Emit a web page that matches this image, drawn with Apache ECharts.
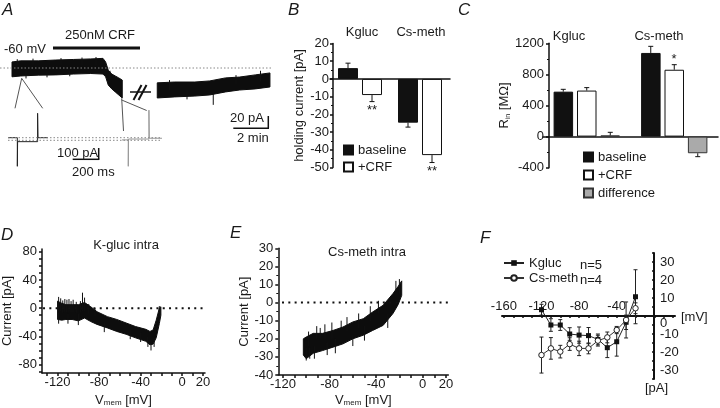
<!DOCTYPE html>
<html><head><meta charset="utf-8">
<script src="https://cdn.jsdelivr.net/npm/echarts@6/dist/echarts.min.js"></script>
<style>html,body{margin:0;padding:0;background:#fff}#c{width:720px;height:408px}</style>
</head><body><div id="c"></div>
<script>
// ---------- Panel A: holding-current trace (time in min, current in pA) ----------
const traceA1Time  = [0, 0.5, 1.5, 2.5, 3.5, 4.5, 5.2, 5.35, 5.5, 5.7, 5.9, 6.1, 6.3];
const traceA1Upper = [11, 13, 13, 14.5, 15.5, 16.5, 17.5, 11, -4, -11, -14.5, -18, -22];
const traceA1Lower = [-16, -14.5, -13, -12.5, -11, -10, -11, -16, -31, -38, -43.5, -49, -54.5];
const traceA1Spikes = [[0.3, 5, 16], [1.2, 5, 17], [2.8, 5, 18], [4.0, 5, 19], [4.8, 5, 20], [0.8, -5, -19], [2.0, -5, -17], [3.3, -5, -15], [5.6, -20, -5]];
const traceA2Time  = [8.3, 9.3, 10.45, 11.3, 12.2, 13.0, 13.9, 14.74];
const traceA2Upper = [-27, -25.5, -25.5, -23.5, -18, -16.5, -12.5, -9];
const traceA2Lower = [-54.5, -52.5, -51, -49, -43.5, -40, -38, -34.5];
const traceA2Spikes = [[11.5, -45, -67], [9.0, -40, -22], [10.0, -40, -57], [12.8, -30, -13], [14.2, -25, -5]];
// inset sweeps (ms, pA)
const inset1Time = [0, 70, 70, 72, 222, 222, 225, 300];
const inset1Curr = [0, 0, -260, -36, -36, 222, 0, 0];
const inset2Time = [0, 47, 47, 49, 202, 202, 205, 300];
const inset2Curr = [-20, -20, -260, -12, -12, 250, -5, -5];

// ---------- Panel B: holding current ----------
const bCategories = ['Kgluc', 'Cs-meth'];
const bBaseline = [6.1, -24.7];
const bBaselineErr = [2.8, 2.5];
const bCRF = [-9.1, -43];
const bCRFErr = [3.7, 4.2];

// ---------- Panel C: input resistance ----------
const cCategories = ['Kgluc', 'Cs-meth'];
const cBaseline = [578, 1076];
const cBaselineErr = [30, 85];
const cCRF = [592, 860];
const cCRFErr = [38, 65];
const cDiff = [15, -214];
const cDiffErr = [40, 44];

// ---------- Panel D: K-gluc IV ramp (envelope) ----------
const dV     = [-120, -116, -112, -106, -100, -94, -88, -82, -72, -63, -54, -45, -35, -31, -28, -25, -22, -20.5];
const dUpper = [10, 7, 5, 5, 5, 8, 2, -5, -12, -16, -21, -26, -30, -33, -31, -17, 0, 2];
const dLower = [-16, -17, -16, -16, -18, -14, -19, -23, -28, -33, -37, -42, -47, -52, -51, -42, -22, -10];
const dSpikes = [[-119, -4, 16], [-117, -4, 14], [-113, -5, 13], [-109, -5, 13], [-105, -6, 12], [-96, -4, 22], [-94, -4, 15],
  [-115, -6, 11], [-111, -6, 12], [-107, -6, 10], [-102, -6, 9], [-98, -6, 10], [-90, -8, 6], [-84, -12, 0],
  [-119, -6, -22], [-110, -8, -22], [-100, -8, -24], [-75, -20, -34], [-50, -30, -44], [-40, -35, -48], [-33, -40, -55],
  [-30, -44, -60], [-27, -40, -55], [-22, -10, 3]];

// ---------- Panel E: Cs-meth IV ramp (envelope) ----------
const eV     = [-102.5, -100, -94, -86, -77, -68.5, -60, -51, -43, -34, -25.5, -21, -18];
const eUpper = [-20, -19, -17, -17, -15.4, -13.5, -10.7, -8.9, -5.2, -1.5, 5, 9, 12];
const eLower = [-29, -31, -28, -26.5, -24.6, -22.8, -20, -18, -15.4, -12.6, -6, -1, 4];
const eSpikes = [[-91, -20, -13], [-88, -20, -14], [-100, -25, -32], [-97, -25, -31], [-93, -24, -31], [-70, -15, -10], [-60, -18, -24], [-20, 5, 13],
  [-98, -24, -16], [-84, -20, -12], [-78, -20, -11], [-65, -16, -8], [-55, -14, -6], [-45, -10, -2], [-38, -6, 1],
  [-82, -22, -29], [-75, -20, -28], [-50, -13, -21], [-30, -6, -14], [-23, 5, 12]];

// ---------- Panel F: mean IV ----------
const fV = [-120, -110, -100, -90, -80, -70, -60, -50, -40, -30, -20];
const fKgluc = [3.5, -5, -5, -10, -10.6, -10.9, -13, -17.6, -14.3, -3.5, 10.7];
const fKglucErr = [3, 3.5, 3, 3.5, 4.5, 4.5, 3, 5.5, 8, 4, 15];
const fCs = [-21.7, -18, -19.8, -15.6, -18, -18, -13.7, -11.9, -7.8, -2.2, 4.3];
const fCsErr = [10, 6, 3.5, 3.5, 4, 3, 3, 3, 2, 10, 3];

const FONT = '"Liberation Sans", Arial, Helvetica, sans-serif';
const INK = '#1a1a1a';
const AX = {color: '#111', width: 1.5};

function range(a, b, s) { const r = []; for (let v = a; v <= b + 1e-9; v += s) r.push(v); return r; }

function band(ai, xs, hi, lo, color) {
  return {type: 'custom', xAxisIndex: ai, yAxisIndex: ai, silent: true, clip: false,
    data: xs.map((x, i) => [x, hi[i], lo[i]]),
    renderItem: (p, api) => {
      if (p.dataIndex !== 0) return null;
      const pts = [];
      for (let i = 0; i < xs.length; i++) pts.push(api.coord([xs[i], hi[i]]));
      for (let i = xs.length - 1; i >= 0; i--) pts.push(api.coord([xs[i], lo[i]]));
      return {type: 'polygon', shape: {points: pts}, style: {fill: color, stroke: color, lineWidth: 1}};
    }};
}
function spikes(ai, arr) {
  return {type: 'custom', xAxisIndex: ai, yAxisIndex: ai, silent: true,
    data: arr,
    renderItem: (p, api) => {
      const a = api.coord([api.value(0), api.value(1)]);
      const b = api.coord([api.value(0), api.value(2)]);
      return {type: 'line', shape: {x1: a[0], y1: a[1], x2: b[0], y2: b[1]}, style: {stroke: '#111', lineWidth: 1}};
    }};
}
function catErr(ai, vals, errs, offset) {
  return {type: 'custom', xAxisIndex: ai, yAxisIndex: ai, silent: true, z: 5,
    data: vals.map((v, i) => [i, v, errs[i]]),
    renderItem: (p, api) => {
      const c = api.value(0), v = api.value(1), e = api.value(2);
      const end = v >= 0 ? v + e : v - e;
      const p0 = api.coord([c, v]), p1 = api.coord([c, end]);
      const x = p0[0] + offset;
      return {type: 'group', children: [
        {type: 'line', shape: {x1: x, y1: p0[1], x2: x, y2: p1[1]}, style: {stroke: '#111', lineWidth: 1}},
        {type: 'line', shape: {x1: x - 2.5, y1: p1[1], x2: x + 2.5, y2: p1[1]}, style: {stroke: '#111', lineWidth: 1}}
      ]};
    }};
}
function xyErr(ai, xs, ys, errs) {
  return {type: 'custom', xAxisIndex: ai, yAxisIndex: ai, silent: true, z: 1,
    data: xs.map((x, i) => [x, ys[i], errs[i]]),
    renderItem: (p, api) => {
      const x = api.value(0), y = api.value(1), e = api.value(2);
      const a = api.coord([x, y + e]), b = api.coord([x, y - e]);
      return {type: 'group', children: [
        {type: 'line', shape: {x1: a[0], y1: a[1], x2: b[0], y2: b[1]}, style: {stroke: '#222', lineWidth: 1}},
        {type: 'line', shape: {x1: a[0] - 2, y1: a[1], x2: a[0] + 2, y2: a[1]}, style: {stroke: '#222', lineWidth: 1}},
        {type: 'line', shape: {x1: b[0] - 2, y1: b[1], x2: b[0] + 2, y2: b[1]}, style: {stroke: '#222', lineWidth: 1}}
      ]};
    }};
}
function T(x, y, text, o) {
  return {type: 'text', x: x, y: y, silent: true, z: 100,
    style: Object.assign({text: text, font: '13px ' + FONT, fill: INK, align: 'left', verticalAlign: 'middle', textAlign: 'left', textVerticalAlign: 'middle'}, o || {})};
}
function C(x, y, text, o) { return T(x, y, text, Object.assign({align: 'center', textAlign: 'center'}, o || {})); }
function L(x1, y1, x2, y2, o) {
  return {type: 'line', silent: true, z: 100, shape: {x1, y1, x2, y2}, style: Object.assign({stroke: '#111', lineWidth: 1}, o || {})};
}
const LET = {font: 'italic 17px ' + FONT};
const hidden = {show: false};
const lbl = {fontFamily: FONT, fontSize: 13, color: INK};

const option = {
  animation: false,
  backgroundColor: '#fff',
  textStyle: {fontFamily: FONT, color: INK},
  grid: [
    {left: 12, top: 40.5, width: 262.5, height: 82.5},   // 0 A trace
    {left: 8, top: 111.3, width: 40, height: 55},        // 1 inset 1
    {left: 122, top: 111.3, width: 40, height: 55},      // 2 inset 2
    {left: 330, top: 43.5, width: 120, height: 124},     // 3 B
    {left: 543, top: 43.3, width: 175, height: 124.4},   // 4 C
    {left: 42, top: 249, width: 163, height: 124},       // 5 D
    {left: 278.3, top: 248.3, width: 170, height: 126.7},// 6 E
    {left: 502, top: 253, width: 173, height: 126}       // 7 F
  ],
  xAxis: [
    {gridIndex: 0, type: 'value', min: 0, max: 15, show: false},
    {gridIndex: 1, type: 'value', min: 0, max: 300, show: false},
    {gridIndex: 2, type: 'value', min: 0, max: 300, show: false},
    {gridIndex: 3, type: 'category', data: bCategories, axisLine: {onZero: true, lineStyle: AX}, axisTick: hidden, axisLabel: hidden},
    {gridIndex: 4, type: 'category', data: cCategories, axisLine: {onZero: true, lineStyle: AX}, axisTick: hidden, axisLabel: hidden},
    {gridIndex: 5, type: 'value', min: -135, max: 22, splitLine: hidden,
      axisLine: {onZero: false, lineStyle: AX},
      axisTick: {customValues: range(-130, 20, 10), length: 3, lineStyle: AX},
      axisLabel: Object.assign({customValues: [-120, -80, -40, 0, 20], margin: 3}, lbl),
      name: 'V{sub|mem} [mV]', nameLocation: 'middle', nameGap: 20,
      nameTextStyle: {fontSize: 13, color: INK, rich: {sub: {fontSize: 8, color: INK, padding: [6, 0, 0, 0]}}}},
    {gridIndex: 6, type: 'value', min: -124, max: 22, splitLine: hidden,
      axisLine: {onZero: false, lineStyle: AX},
      axisTick: {customValues: range(-120, 20, 10), length: 3, lineStyle: AX},
      axisLabel: Object.assign({customValues: [-120, -80, -40, 0, 20], margin: 3}, lbl),
      name: 'V{sub|mem} [mV]', nameLocation: 'middle', nameGap: 18,
      nameTextStyle: {fontSize: 13, color: INK, rich: {sub: {fontSize: 8, color: INK, padding: [6, 0, 0, 0]}}}},
    {gridIndex: 7, type: 'value', min: -162, max: 22, splitLine: hidden, position: 'bottom', offset: -63,
      axisLine: {onZero: false, lineStyle: {color: '#111', width: 2}},
      axisTick: {customValues: range(-160, 20, 10), length: 2, lineStyle: AX},
      axisLabel: Object.assign({customValues: [-160, -120, -80, -40], inside: true, margin: 3}, lbl)}
  ],
  yAxis: [
    {gridIndex: 0, type: 'value', min: -100, max: 50, show: false},
    {gridIndex: 1, type: 'value', min: -260, max: 240, show: false},
    {gridIndex: 2, type: 'value', min: -260, max: 240, show: false},
    {gridIndex: 3, type: 'value', min: -50, max: 20, interval: 10, offset: -3, splitLine: hidden,
      axisLine: {show: true, lineStyle: AX}, axisTick: {show: true, length: 3, lineStyle: AX},
      minorTick: {show: true, splitNumber: 2, length: 2, lineStyle: {color: '#111'}},
      axisLabel: Object.assign({margin: 4}, lbl),
      name: 'holding current [pA]', nameLocation: 'middle', nameGap: 27, nameRotate: 90,
      nameTextStyle: {fontSize: 13, color: INK}},
    {gridIndex: 4, type: 'value', min: -400, max: 1200, interval: 400, offset: -6, splitLine: hidden,
      axisLine: {show: true, lineStyle: AX}, axisTick: {show: true, length: 3, lineStyle: AX},
      minorTick: {show: true, splitNumber: 2, length: 2, lineStyle: {color: '#111'}},
      axisLabel: Object.assign({margin: 5, formatter: v => String(v)}, lbl),
      name: 'R{sub|in} [MΩ]', nameLocation: 'middle', nameGap: 36, nameRotate: 90,
      nameTextStyle: {fontSize: 13, color: INK, rich: {sub: {fontSize: 7, color: INK, padding: [6, 0, 0, 0]}}}},
    {gridIndex: 5, type: 'value', min: -92, max: 84, splitLine: hidden,
      axisLine: {onZero: false, lineStyle: AX},
      axisTick: {customValues: range(-90, 80, 10), length: 3, lineStyle: AX},
      axisLabel: Object.assign({customValues: [-80, -40, 0, 40, 80], margin: 5}, lbl),
      name: 'Current [pA]', nameLocation: 'middle', nameGap: 27, nameRotate: 90,
      nameTextStyle: {fontSize: 13, color: INK}},
    {gridIndex: 6, type: 'value', min: -40, max: 30, interval: 10, splitLine: hidden,
      axisLine: {onZero: false, lineStyle: AX},
      axisTick: {length: 3, lineStyle: AX},
      minorTick: {show: true, splitNumber: 2, length: 2, lineStyle: {color: '#111'}},
      axisLabel: Object.assign({margin: 5}, lbl),
      name: 'Current [pA]', nameLocation: 'middle', nameGap: 27, nameRotate: 90,
      nameTextStyle: {fontSize: 13, color: INK}},
    {gridIndex: 7, type: 'value', min: -35, max: 35, splitLine: hidden, position: 'left', offset: -152,
      axisLine: {onZero: false, lineStyle: {color: '#111', width: 2}},
      axisTick: {customValues: range(-35, 35, 5), length: 2, lineStyle: AX},
      axisLabel: Object.assign({customValues: [-30, -20, -10, 0, 10, 20, 30], inside: true, margin: 6,
        formatter: v => v === 0 ? '{z|0}' : String(v), rich: {z: {fontSize: 13, color: INK, padding: [14, 0, 0, 0]}}}, lbl)}
  ],
  legend: [
    {left: 343, top: 143.5, orient: 'vertical', padding: 0, itemWidth: 9, itemHeight: 9, itemGap: 4, icon: 'rect',
      data: ['baseline', '+CRF'], textStyle: {fontSize: 13, color: INK, fontFamily: FONT}, selectedMode: false},
    {left: 583, top: 150.5, orient: 'vertical', padding: 0, itemWidth: 9, itemHeight: 9, itemGap: 5, icon: 'rect',
      data: ['baseline', '+CRF', 'difference'], textStyle: {fontSize: 13, color: INK, fontFamily: FONT}, selectedMode: false},
    {left: 503, top: 256.5, orient: 'vertical', padding: 0, itemWidth: 20, itemHeight: 7, itemGap: 2,
      data: ['Kgluc', 'Cs-meth'], textStyle: {fontSize: 13, color: INK, fontFamily: FONT}, selectedMode: false}
  ],
  series: [
    // A
    band(0, traceA1Time, traceA1Upper, traceA1Lower, '#0d0d0d'),
    spikes(0, traceA1Spikes),
    band(0, traceA2Time, traceA2Upper, traceA2Lower, '#0d0d0d'),
    spikes(0, traceA2Spikes),
    {type: 'line', xAxisIndex: 1, yAxisIndex: 1, data: inset1Time.map((t, i) => [t, inset1Curr[i]]), symbol: 'none', lineStyle: {color: '#222', width: 1}, clip: false},
    {type: 'line', xAxisIndex: 2, yAxisIndex: 2, data: inset2Time.map((t, i) => [t, inset2Curr[i]]), symbol: 'none', lineStyle: {color: '#999', width: 1}, clip: false},
    // B
    {name: 'baseline', type: 'bar', xAxisIndex: 3, yAxisIndex: 3, data: bBaseline, barWidth: 20, barGap: '20%',
      itemStyle: {color: '#111', borderColor: '#111', borderWidth: 1}},
    {name: '+CRF', type: 'bar', xAxisIndex: 3, yAxisIndex: 3, data: bCRF, barWidth: 20, barGap: '20%',
      itemStyle: {color: '#fff', borderColor: '#111', borderWidth: 1}},
    catErr(3, bBaseline, bBaselineErr, -12),
    catErr(3, bCRF, bCRFErr, 12),
    // C
    {name: 'baseline', type: 'bar', xAxisIndex: 4, yAxisIndex: 4, data: cBaseline, barWidth: 19.5, barGap: '20%',
      itemStyle: {color: '#111', borderColor: '#111', borderWidth: 1}},
    {name: '+CRF', type: 'bar', xAxisIndex: 4, yAxisIndex: 4, data: cCRF, barWidth: 19.5, barGap: '20%',
      itemStyle: {color: '#fff', borderColor: '#111', borderWidth: 1}},
    {name: 'difference', type: 'bar', xAxisIndex: 4, yAxisIndex: 4, data: cDiff, barWidth: 19.5, barGap: '20%',
      itemStyle: {color: '#aaaaaa', borderColor: '#333', borderWidth: 1}},
    catErr(4, cBaseline, cBaselineErr, -23.5),
    catErr(4, cCRF, cCRFErr, 0),
    catErr(4, cDiff, cDiffErr, 23.5),
    // D
    {type: 'line', xAxisIndex: 5, yAxisIndex: 5, data: [[-134, 0], [29.7, 0]], symbol: 'none', clip: false, silent: true,
      lineStyle: {color: '#111', width: 2, type: [2, 4.3]}},
    band(5, dV, dUpper, dLower, '#0d0d0d'),
    spikes(5, dSpikes),
    // E
    {type: 'line', xAxisIndex: 6, yAxisIndex: 6, data: [[-120.8, 0], [25.2, 0]], symbol: 'none', clip: false, silent: true,
      lineStyle: {color: '#111', width: 2, type: [2, 4.3]}},
    band(6, eV, eUpper, eLower, '#0d0d0d'),
    spikes(6, eSpikes),
    // F
    xyErr(7, fV, fKgluc, fKglucErr),
    xyErr(7, fV, fCs, fCsErr),
    {name: 'Kgluc', type: 'line', xAxisIndex: 7, yAxisIndex: 7, data: fV.map((v, i) => [v, fKgluc[i]]),
      symbol: 'rect', symbolSize: 5, z: 3, lineStyle: {color: '#222', width: 1}, itemStyle: {color: '#111'}},
    {name: 'Cs-meth', type: 'line', xAxisIndex: 7, yAxisIndex: 7, data: fV.map((v, i) => [v, fCs[i]]),
      symbol: 'circle', symbolSize: 5.5, z: 3, lineStyle: {color: '#333', width: 1},
      itemStyle: {color: '#fff', borderColor: '#222', borderWidth: 1}}
  ],
  graphic: [
    // A annotations
    T(2, 10, 'A', LET),
    C(100, 35, '250nM CRF'),
    {type: 'rect', silent: true, shape: {x: 53, y: 46.5, width: 87, height: 3}, style: {fill: '#111'}},
    T(4, 49, '-60 mV'),
    L(0, 68, 273, 68, {stroke: '#888', lineDash: [1.5, 2]}),
    L(130, 92, 151, 92, {lineWidth: 1.5}),
    L(133.5, 100, 141.5, 85, {lineWidth: 2}),
    L(138.5, 100, 146.5, 85, {lineWidth: 2}),
    L(21.7, 78.3, 15, 108.3, {stroke: '#555'}),
    L(21.7, 78.3, 42.7, 108.3, {stroke: '#555'}),
    L(121.7, 98.3, 123.5, 131, {stroke: '#555'}),
    L(121.7, 100, 146.7, 110.5, {stroke: '#555'}),
    L(8, 137.7, 162, 137.7, {stroke: '#888', lineDash: [1.5, 2]}),
    L(8, 140.3, 162, 140.3, {stroke: '#888', lineDash: [1.5, 2]}),
    L(98.7, 148, 98.7, 159.3, {lineWidth: 1.5}),
    L(72.7, 159.3, 99.4, 159.3, {lineWidth: 1.5}),
    T(57, 153, '100 pA'),
    T(72, 172.7, '200 ms'),
    L(268.3, 116, 268.3, 128.3, {lineWidth: 1.5}),
    L(233.3, 128.3, 269, 128.3, {lineWidth: 1.5}),
    T(230, 118, '20 pA'),
    T(237, 138.5, '2 min'),
    // B
    T(288, 10, 'B', LET),
    C(362, 32, 'Kgluc'), C(421, 32, 'Cs-meth'),
    C(372, 110, '**'), C(432, 171, '**'),
    // C
    T(458, 10, 'C', LET),
    C(569, 36, 'Kgluc'), C(659, 36, 'Cs-meth'),
    C(674, 59, '*'),
    // D / E / F
    T(1, 235, 'D', LET),
    C(126, 245, 'K-gluc intra'),
    T(230, 233, 'E', LET),
    C(367, 252, 'Cs-meth intra'),
    T(480, 238, 'F', LET),
    T(580, 265, 'n=5'), T(580, 280, 'n=4'),
    T(681, 317, '[mV]'),
    T(645, 388, '[pA]')
  ]
};
const chart = echarts.init(document.getElementById('c'), null, {renderer: 'canvas'});
chart.setOption(option);
</script></body></html>
